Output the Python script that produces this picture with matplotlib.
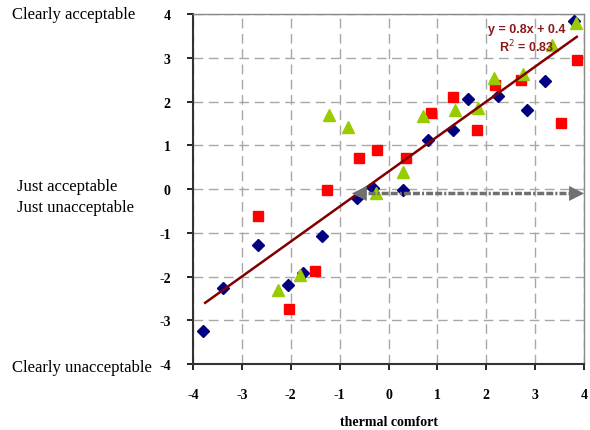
import numpy as np
import matplotlib.pyplot as plt

# series (thermal comfort vs acceptability)
blue_x = [-3.79, -3.38, -2.67, -2.06, -1.75, -1.36, -0.64, -0.32, 0.30, 0.80, 1.31, 1.62, 2.24, 2.83, 3.21, 3.80]
blue_y = [-3.25, -2.26, -1.28, -2.19, -1.91, -1.07, -0.21, 0.03, -0.01, 1.12, 1.34, 2.05, 2.13, 1.80, 2.46, 3.85]

red_x = [-2.66, -2.04, -1.51, -1.25, -0.61, -0.24, 0.35, 0.87, 1.32, 1.81, 2.17, 2.71, 3.52, 3.85]
red_y = [-0.61, -2.74, -1.88, -0.02, 0.70, 0.89, 0.70, 1.75, 2.10, 1.36, 2.37, 2.50, 1.51, 2.94]

green_x = [-2.25, -1.82, -1.21, -0.82, -0.26, 0.29, 0.70, 1.35, 1.83, 2.15, 2.75, 3.35, 3.84]
green_y = [-2.30, -1.96, 1.70, 1.41, -0.10, 0.40, 1.68, 1.81, 1.85, 2.54, 2.63, 3.30, 3.80]

# linear trend shown on the chart
fit_slope = 0.8
fit_intercept = 0.4
fit_r2 = 0.83
fit_x = [-3.75, 3.85]

# grey double arrow
arrow_x = [-0.75, 4.0]
arrow_y = -0.1

ticks = [-4, -3, -2, -1, 0, 1, 2, 3, 4]

fig = plt.figure(figsize=(5.9, 4.31), dpi=100)
ax = fig.add_axes([0.327, 0.153, 0.663, 0.812])

serif = "Liberation Serif"

ax.grid(True, color="#a8a8a8", linestyle=(0, (7, 4)), linewidth=1)
ax.set_axisbelow(True)

ax.plot(blue_x, blue_y, "D", color="#000080", markersize=6.5, linestyle="none", zorder=3, clip_on=False)
ax.plot(red_x, red_y, "s", color="#ff0000", markersize=6.5, linestyle="none", zorder=3, clip_on=False)
ax.plot(green_x, green_y, "^", color="#99cc00", markersize=9, linestyle="none", zorder=3, clip_on=False)

fx = np.array(fit_x)
ax.plot(fx, fit_slope * fx + fit_intercept, color="#800000", linewidth=1.8, zorder=4)

# dotted grey arrow: dashed shaft + solid heads
ax.plot([arrow_x[0] + 0.15, arrow_x[1] - 0.15], [arrow_y, arrow_y], color="#707070", linewidth=2.5,
        linestyle=(0, (2, 0.6, 2, 0.6, 0.6, 0.6)), zorder=5, clip_on=False)
head = dict(arrowstyle="-|>,head_length=0.9,head_width=0.45", color="#707070", lw=0,
            shrinkA=0, shrinkB=0, mutation_scale=12)
ax.annotate("", xy=(arrow_x[0], arrow_y), xytext=(arrow_x[0] + 0.4, arrow_y), arrowprops=head, zorder=6)
ax.annotate("", xy=(arrow_x[1], arrow_y), xytext=(arrow_x[1] - 0.4, arrow_y), arrowprops=head, zorder=6)

ax.text(2.83, 3.66, "y = 0.8x + 0.4", color="#8b1a1a", fontsize=9, fontweight="bold",
        family="Liberation Sans", ha="center", va="center", zorder=6)
ax.text(2.83, 3.27, "R$^2$ = %.2f" % fit_r2, color="#8b1a1a", fontsize=9, fontweight="bold",
        family="Liberation Sans", ha="center", va="center", zorder=6)

ax.set_xlim(-4, 4)
ax.set_ylim(-4, 4)
ax.set_xticks(ticks)
ax.set_yticks(ticks)
ax.set_xticklabels([str(t) for t in ticks], family=serif, fontweight="bold", fontsize=10)
ax.set_yticklabels([str(t) for t in ticks], family=serif, fontweight="bold", fontsize=10)
ax.tick_params(axis="x", length=4, pad=13, width=1.2)
ax.tick_params(axis="y", length=4, pad=12, width=1.2)

ax.set_xlabel("thermal comfort", family=serif, fontweight="bold", fontsize=10, labelpad=10)

for s in ["left", "bottom"]:
    ax.spines[s].set_color("#333333")
    ax.spines[s].set_linewidth(1.5)
for s in ["top", "right"]:
    ax.spines[s].set_color("#888888")
    ax.spines[s].set_linewidth(1)

# acceptability labels on the left
fig.text(12 / 590, 1 - 15 / 431, "Clearly acceptable", family=serif, fontsize=12, va="center")
fig.text(17 / 590, 1 - 187 / 431, "Just acceptable", family=serif, fontsize=12, va="center")
fig.text(17 / 590, 1 - 208 / 431, "Just unacceptable", family=serif, fontsize=12, va="center")
fig.text(12 / 590, 1 - 368 / 431, "Clearly unacceptable", family=serif, fontsize=12, va="center")

fig.savefig("out.png", dpi=100)
